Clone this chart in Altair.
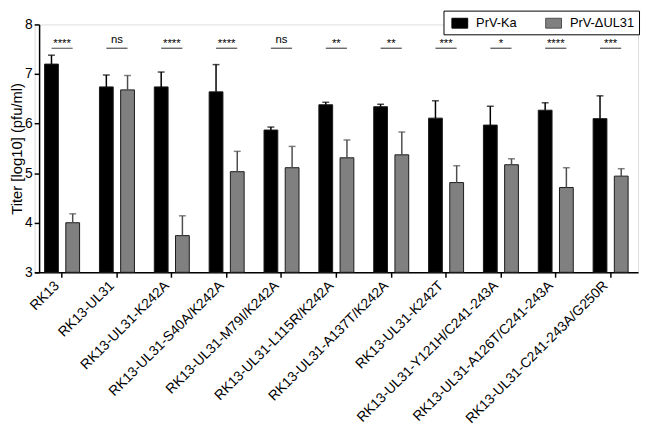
import altair as alt
import pandas as pd

categories = [
    "RK13",
    "RK13-UL31",
    "RK13-UL31-K242A",
    "RK13-UL31-S40A/K242A",
    "RK13-UL31-M79I/K242A",
    "RK13-UL31-L115R/K242A",
    "RK13-UL31-A137T/K242A",
    "RK13-UL31-K242T",
    "RK13-UL31-Y121H/C241-243A",
    "RK13-UL31-A126T/C241-243A",
    "RK13-UL31-C241-243A/G250R",
]
series_names = ["PrV-Ka", "PrV-ΔUL31"]
ka_mean = [7.20, 6.74, 6.74, 6.64, 5.87, 6.38, 6.34, 6.11, 5.97, 6.27, 6.10]
ka_sd = [0.18, 0.24, 0.30, 0.55, 0.06, 0.05, 0.05, 0.35, 0.38, 0.15, 0.46]
dul_mean = [4.00, 6.68, 3.74, 5.03, 5.11, 5.31, 5.37, 4.81, 5.17, 4.71, 4.94]
dul_sd = [0.18, 0.29, 0.40, 0.41, 0.43, 0.36, 0.46, 0.34, 0.12, 0.40, 0.15]
significance = ["****", "ns", "****", "****", "ns", "**", "**", "***", "*", "****", "***"]

rows = []
for i, c in enumerate(categories):
    rows.append({"category": c, "series": series_names[0], "mean": ka_mean[i], "sd": ka_sd[i]})
    rows.append({"category": c, "series": series_names[1], "mean": dul_mean[i], "sd": dul_sd[i]})
df = pd.DataFrame(rows)
sig_df = pd.DataFrame({"category": categories, "label": significance})

FONT = "Liberation Sans"

x_enc = alt.X(
    "category:N",
    sort=categories,
    scale=alt.Scale(paddingInner=0, paddingOuter=0),
    axis=alt.Axis(
        title=None, labelAngle=-45, labelAlign="right", labelBaseline="bottom",
        labelFontSize=14, labelFont=FONT, labelColor="black",
        labelPadding=11, labelLimit=400, tickSize=5, tickWidth=1.5, tickColor="black",
        domainColor="black", domainWidth=1.5, grid=False,
    ),
)
xoff = alt.XOffset(
    "series:N", sort=series_names,
    scale=alt.Scale(domain=series_names, paddingInner=0.35, paddingOuter=0.468),
)
y_scale = alt.Scale(domain=[3, 8], nice=False, zero=False)
y_axis = alt.Axis(
    title="Titer [log10] (pfu/ml)", titleFontSize=15, titleFont=FONT, titleFontWeight="normal",
    titleColor="black", titlePadding=0, labelFontSize=14, labelFont=FONT, labelColor="black",
    labelPadding=2, tickSize=5, tickWidth=1.5, tickColor="black", domainColor="black",
    domainWidth=1.5, grid=False, offset=-4.5, values=[3, 4, 5, 6, 7, 8],
)

base = alt.Chart(df)

bars = base.mark_bar(stroke="#1a1a1a", strokeWidth=1).encode(
    x=x_enc,
    xOffset=xoff,
    y=alt.Y("mean:Q", scale=y_scale, axis=y_axis),
    y2=alt.Y2(datum=3),
    color=alt.Color(
        "series:N", sort=series_names,
        scale=alt.Scale(domain=series_names, range=["#000000", "#808080"]),
        legend=alt.Legend(
            title=None, orient="none", legendX=414, legendY=-14, direction="horizontal",
            symbolType="M-1,-0.625H1V0.625H-1Z", symbolSize=256, symbolStrokeColor="#1a1a1a",
            symbolStrokeWidth=1, labelFontSize=13, labelFont=FONT, labelColor="black",
            strokeColor="black", fillColor="white", padding=4, symbolOffset=4, labelOffset=8,
            columnPadding=24,
        ),
    ),
)

err_rules = base.transform_calculate(upper="datum.mean + datum.sd").mark_rule(strokeWidth=1.5).encode(
    x=x_enc,
    xOffset=xoff,
    y=alt.Y("mean:Q", scale=y_scale),
    y2="upper:Q",
    stroke=alt.Stroke("series:N", scale=alt.Scale(domain=series_names, range=["#000000", "#4d4d4d"]), legend=None),
)

err_caps = base.transform_calculate(upper="datum.mean + datum.sd").mark_tick(
    orient="horizontal", size=7, thickness=1.5
).encode(
    x=x_enc,
    xOffset=xoff,
    y=alt.Y("upper:Q", scale=y_scale),
    fill=alt.Fill("series:N", scale=alt.Scale(domain=series_names, range=["#000000", "#4d4d4d"]), legend=None),
)

sig_lines = alt.Chart(sig_df).mark_tick(orient="horizontal", size=21.4, thickness=1.2, color="black").encode(
    x=x_enc,
    y=alt.Y(datum=7.52, scale=y_scale),
)

sig_ns = alt.Chart(sig_df).transform_filter("datum.label == 'ns'").mark_text(
    fontSize=11.5, font=FONT, baseline="alphabetic", color="black"
).encode(
    x=x_enc,
    y=alt.Y(datum=7.63, scale=y_scale),
    text="label:N",
)

sig_stars = alt.Chart(sig_df).transform_filter("datum.label != 'ns'").mark_text(
    fontSize=11.5, font=FONT, baseline="alphabetic", color="black", dy=4
).encode(
    x=x_enc,
    y=alt.Y(datum=7.63, scale=y_scale),
    text="label:N",
)

chart = alt.layer(bars, err_rules, err_caps, sig_lines, sig_ns, sig_stars).properties(
    width=611,
    height=251,
    autosize=alt.AutoSizeParams(type="none"),
    padding={"left": 27, "top": 14, "right": 4, "bottom": 155},
).configure_view(stroke=None).configure(font=FONT)

chart.save("out.html", embed_options={"renderer": "svg", "actions": False})
